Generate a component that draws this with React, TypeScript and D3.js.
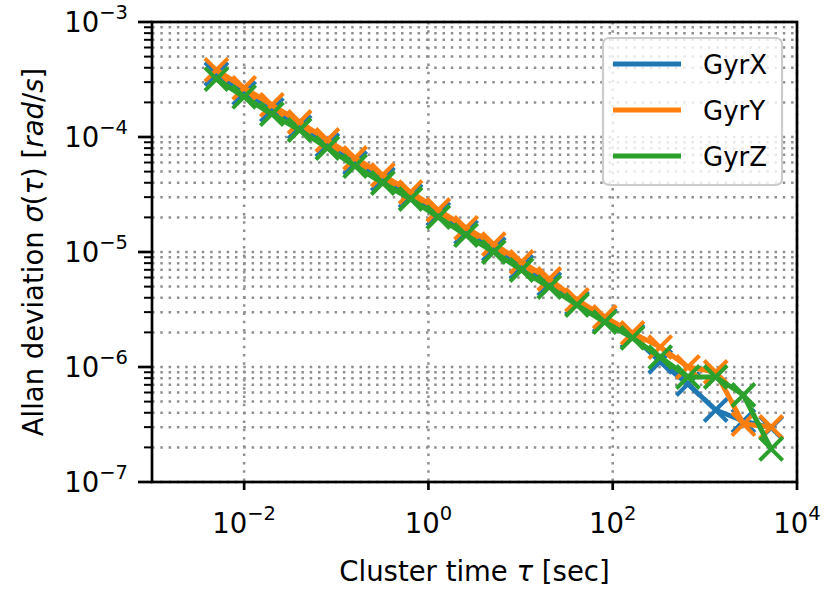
import React from 'react';
import * as d3 from 'd3';

// Cluster times (s)
const tau = [0.005, 0.01, 0.02, 0.04, 0.08, 0.16, 0.32, 0.64, 1.28, 2.56, 5.12, 10.24, 20.48, 40.96, 81.92, 163.84, 327.68, 655.36, 1310.72, 2621.44, 5242.88];

// Allan deviation values (rad/s)
const gyrX = [3.53e-4, 2.41e-4, 1.72e-4, 1.22e-4, 8.52e-5, 5.94e-5, 4.31e-5, 3.07e-5, 2.14e-5, 1.49e-5, 1.06e-5, 7.41e-6, 5.27e-6, 3.6e-6, 2.56e-6, 1.86e-6, 1.11e-6, 7.11e-7, 4.23e-7, 3.39e-7, 2.95e-7];
const gyrY = [3.83e-4, 2.67e-4, 1.9e-4, 1.35e-4, 9.42e-5, 6.57e-5, 4.67e-5, 3.32e-5, 2.32e-5, 1.62e-5, 1.17e-5, 8.19e-6, 5.82e-6, 3.83e-6, 2.72e-6, 1.98e-6, 1.49e-6, 1.0e-6, 9.05e-7, 3.19e-7, 3.01e-7];
const gyrZ = [3.19e-4, 2.23e-4, 1.58e-4, 1.15e-4, 8.02e-5, 5.59e-5, 3.98e-5, 2.89e-5, 2.01e-5, 1.4e-5, 1.0e-5, 6.97e-6, 4.96e-6, 3.46e-6, 2.46e-6, 1.79e-6, 1.22e-6, 8.19e-7, 8.19e-7, 5.71e-7, 1.94e-7];

const seriesNames = ['GyrX', 'GyrY', 'GyrZ'];
const seriesColors = ['#1f77b4', '#ff7f0e', '#2ca02c'];

const xMajorExp = [-2, 0, 2, 4];
const yMajorExp = [-7, -6, -5, -4, -3];

const W = 825;
const H = 590;
const L = 152, R = 797, T = 22, B = 482;
const FONT = 'DejaVu Sans, sans-serif';

export default function App() {
  const x = d3.scaleLog().domain([1e-3, 1e4]).range([L, R]);
  const y = d3.scaleLog().domain([1e-7, 1e-3]).range([B, T]);
  const series = [gyrX, gyrY, gyrZ];

  const yMinor: number[] = [];
  for (let e = -7; e < -3; e++) {
    for (let m = 2; m <= 9; m++) yMinor.push(m * Math.pow(10, e));
  }

  const line = d3
    .line<number>()
    .x((_, i) => x(tau[i]))
    .y((d) => y(d));

  const ms = 11.5;
  const gridStyle = { stroke: '#8f8f8f', strokeWidth: 2.5, strokeDasharray: '2.5 5.8' };

  const sup = (e: number) => (e < 0 ? '\u2212' + Math.abs(e) : String(e));

  return (
    <svg width={W} height={H} style={{ position: 'absolute', left: 0, top: 0 }} fontFamily={FONT}>
      <rect x={0} y={0} width={W} height={H} fill="#ffffff" />
      {/* grid */}
      <g>
        {yMajorExp.map((e) => (
          <line key={'gy' + e} x1={L} x2={R} y1={y(Math.pow(10, e))} y2={y(Math.pow(10, e))} {...gridStyle} />
        ))}
        {yMinor.map((v, i) => (
          <line key={'gym' + i} x1={L} x2={R} y1={y(v)} y2={y(v)} {...gridStyle} />
        ))}
        {xMajorExp.map((e) => (
          <line key={'gx' + e} x1={x(Math.pow(10, e))} x2={x(Math.pow(10, e))} y1={T} y2={B} {...gridStyle} />
        ))}
      </g>
      {/* data */}
      <g>
        {series.map((s, si) => (
          <g key={'s' + si}>
            <path d={line(s) || ''} fill="none" stroke={seriesColors[si]} strokeWidth={5} strokeLinejoin="round" />
            {s.map((v, i) => (
              <path
                key={i}
                transform={`translate(${x(tau[i])},${y(v)})`}
                d={`M${-ms},${-ms}L${ms},${ms}M${-ms},${ms}L${ms},${-ms}`}
                stroke={seriesColors[si]}
                strokeWidth={4}
                fill="none"
              />
            ))}
          </g>
        ))}
      </g>
      {/* legend */}
      <g>
        <rect x={603} y={38} width={179} height={147} rx={6} fill="#ffffff" fillOpacity={0.8} stroke="#cccccc" strokeWidth={2.2} />
        {seriesNames.map((n, i) => (
          <g key={n}>
            <line x1={613} x2={681} y1={64 + i * 46} y2={64 + i * 46} stroke={seriesColors[i]} strokeWidth={5} />
            <text x={703} y={64 + i * 46 + 9.5} fontSize={26} fill="#000">
              {n}
            </text>
          </g>
        ))}
      </g>
      {/* spines */}
      <rect x={L} y={T} width={R - L} height={B - T} fill="none" stroke="#000" strokeWidth={2.7} />
      {/* y ticks */}
      <g>
        {yMajorExp.map((e) => (
          <g key={'yt' + e}>
            <line x1={L - 14} x2={L} y1={y(Math.pow(10, e))} y2={y(Math.pow(10, e))} stroke="#000" strokeWidth={2.7} />
            <text x={L - 24} y={y(Math.pow(10, e)) + 10} textAnchor="end" fontSize={27.5} fill="#000">
              10
              <tspan dy={-13} fontSize={19.5}>{sup(e)}</tspan>
            </text>
          </g>
        ))}
        {yMinor.map((v, i) => (
          <line key={'ytm' + i} x1={L - 8} x2={L} y1={y(v)} y2={y(v)} stroke="#000" strokeWidth={2} />
        ))}
      </g>
      {/* x ticks */}
      <g>
        {xMajorExp.map((e) => (
          <g key={'xt' + e}>
            <line x1={x(Math.pow(10, e))} x2={x(Math.pow(10, e))} y1={B} y2={B + 8} stroke="#000" strokeWidth={2.7} />
            <text x={x(Math.pow(10, e))} y={533} textAnchor="middle" fontSize={27.5} fill="#000">
              10
              <tspan dy={-13} fontSize={19.5}>{sup(e)}</tspan>
            </text>
          </g>
        ))}
      </g>
      {/* axis labels */}
      <text x={(L + R) / 2} y={581} textAnchor="middle" fontSize={27.5} fill="#000">
        Cluster time <tspan fontStyle="italic">τ</tspan> [sec]
      </text>
      <text
        transform={`translate(43,${(T + B) / 2}) rotate(-90)`}
        textAnchor="middle"
        fontSize={27.5}
        fill="#000"
      >
        Allan deviation <tspan fontStyle="italic">σ</tspan>(<tspan fontStyle="italic">τ</tspan>) [<tspan fontStyle="italic">rad</tspan>/<tspan fontStyle="italic">s</tspan>]
      </text>
    </svg>
  );
}
